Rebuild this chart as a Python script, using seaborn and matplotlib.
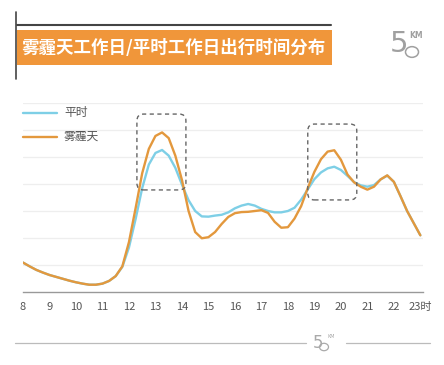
import matplotlib
matplotlib.use("Agg")
import matplotlib.pyplot as plt
from matplotlib.patches import FancyBboxPatch, Rectangle, Circle
from matplotlib.lines import Line2D
import seaborn as sns
import pandas as pd

sns.set_theme(style="white")
plt.rcParams['font.family'] = ['Noto Sans CJK SC', 'DejaVu Sans']

# 数据 (从图中估读, 每15分钟一个点)
horas = [8.0, 8.25, 8.5, 8.75, 9.0, 9.25, 9.5, 9.75, 10.0, 10.25, 10.5, 10.75,
         11.0, 11.25, 11.5, 11.75, 12.0, 12.25, 12.5, 12.75, 13.0, 13.25, 13.5, 13.75,
         14.0, 14.25, 14.5, 14.75, 15.0, 15.25, 15.5, 15.75, 16.0, 16.25, 16.5, 16.75,
         17.0, 17.25, 17.5, 17.75, 18.0, 18.25, 18.5, 18.75, 19.0, 19.25, 19.5, 19.75,
         20.0, 20.25, 20.5, 20.75, 21.0, 21.25, 21.5, 21.75, 22.0, 22.25, 22.5, 22.75, 23.0]

pingshi = [1.09, 0.95, 0.82, 0.72, 0.63, 0.56, 0.49, 0.42, 0.36, 0.31, 0.27, 0.27,
           0.31, 0.41, 0.59, 0.93, 1.65, 2.7, 3.85, 4.72, 5.15, 5.26, 5.05, 4.6,
           3.98, 3.4, 3.0, 2.8, 2.79, 2.83, 2.86, 2.95, 3.1, 3.2, 3.26, 3.2,
           3.08, 3.0, 2.95, 2.95, 3.0, 3.12, 3.42, 3.8, 4.18, 4.43, 4.58, 4.64,
           4.52, 4.3, 4.07, 3.95, 3.9, 3.96, 4.17, 4.31, 4.08, 3.55, 3.0, 2.55, 2.1]

wumai = [1.09, 0.95, 0.82, 0.72, 0.63, 0.56, 0.49, 0.42, 0.36, 0.31, 0.27, 0.27,
         0.31, 0.41, 0.59, 0.95, 1.85, 3.1, 4.4, 5.3, 5.78, 5.91, 5.7, 5.05,
         4.15, 3.0, 2.22, 1.99, 2.03, 2.22, 2.52, 2.78, 2.92, 2.96, 2.97, 3.0,
         3.03, 2.93, 2.6, 2.38, 2.4, 2.72, 3.18, 3.85, 4.45, 4.92, 5.2, 5.25,
         4.9, 4.35, 4.06, 3.9, 3.79, 3.9, 4.17, 4.32, 4.08, 3.55, 3.0, 2.55, 2.1]

ticks = list(range(8, 24))
tick_labels = [str(h) for h in range(8, 23)] + ['23时']

azul = '#7ECFE6'
naranja = '#E3983D'

df = pd.DataFrame({'hora': horas * 2,
                   'valor': pingshi + wumai,
                   'serie': ['平时'] * len(horas) + ['雾霾天'] * len(horas)})

W, H = 444, 365
fig = plt.figure(figsize=(W / 100, H / 100), dpi=100)

def fx(px):
    return px / W

def fy(py):
    return 1 - py / H

ax = fig.add_axes([fx(23), fy(292), fx(423) - fx(23), fy(103) - fy(292)])
sns.lineplot(data=df, x='hora', y='valor', hue='serie',
             palette={'平时': azul, '雾霾天': naranja}, linewidth=1.7,
             legend=False, ax=ax)
for ln in ax.lines:
    ln.set_solid_joinstyle('round')
    ln.set_solid_capstyle('round')
ax.set_xlim(8.0, 23.1)
ax.set_ylim(0, 7)
ax.set_yticks(range(1, 8))
ax.set_yticklabels([])
ax.yaxis.grid(True, color='#EEEEEE', linewidth=0.9)
ax.tick_params(axis='y', length=0)
ax.set_xticks(ticks)
ax.set_xticklabels(tick_labels, fontsize=8, color='#555555')
ax.tick_params(axis='x', length=0, pad=7)
ax.set_xlabel('')
ax.set_ylabel('')
for s in ['top', 'right', 'left']:
    ax.spines[s].set_visible(False)
ax.spines['bottom'].set_color('#999999')
ax.spines['bottom'].set_linewidth(1.0)

# 虚线框
for x0, x1, y0, y1 in [(12.3, 14.15, 3.78, 6.59), (18.75, 20.6, 3.41, 6.22)]:
    box = FancyBboxPatch((x0, y0), x1 - x0, y1 - y0,
                         boxstyle='round,pad=0,rounding_size=0.25',
                         fill=False, edgecolor='#666666', linestyle=(0, (3, 2.5)),
                         linewidth=1.0, zorder=5)
    ax.add_patch(box)

# 图例
fig.add_artist(Line2D([fx(23), fx(57)], [fy(113), fy(113)], color=azul, linewidth=1.7))
fig.add_artist(Line2D([fx(23), fx(57)], [fy(137), fy(137)], color=naranja, linewidth=1.7))
fig.text(fx(64), fy(112), '平时', fontsize=8.5, color='#555555', va='center')
fig.text(fx(64), fy(136), '雾霾天', fontsize=8.5, color='#555555', va='center')

# 标题
fig.add_artist(Rectangle((fx(17), fy(65)), fx(332) - fx(17), fy(30) - fy(65),
                         transform=fig.transFigure, facecolor='#F0963A', edgecolor='none'))
fig.add_artist(Line2D([fx(17), fx(331)], [fy(25), fy(25)], color='#444444', linewidth=1.5))
fig.add_artist(Line2D([fx(16), fx(16)], [fy(12), fy(79)], color='#444444', linewidth=1.2))
fig.text(fx(21), fy(48), '雾霾天工作日/平时工作日出行时间分布', fontsize=12.6,
         fontweight='heavy', color='white', va='center', ha='left')

# 50KM 标志 (右上)
fig.text(fx(390), fy(44), '5', fontsize=21, color='#A0A0A0', va='center', ha='left',
         family=['DejaVu Sans'])
fig.add_artist(Circle((fx(412), fy(52)), 6.5 / W, transform=fig.transFigure,
                      fill=False, edgecolor='#A0A0A0', linewidth=1.1))
fig.text(fx(409), fy(36), 'KM', fontsize=5.5, color='#A0A0A0', va='center', ha='left',
         family=['DejaVu Sans'], fontweight='bold')

# 底部线条与标志
fig.add_artist(Line2D([fx(15), fx(306)], [fy(343), fy(343)], color='#BBBBBB', linewidth=0.9))
fig.add_artist(Line2D([fx(346), fx(430)], [fy(343), fy(343)], color='#BBBBBB', linewidth=0.9))
fig.text(fx(313), fy(343), '5', fontsize=12, color='#AAAAAA', va='center', ha='left',
         family=['DejaVu Sans'])
fig.add_artist(Circle((fx(324), fy(347)), 4.5 / W, transform=fig.transFigure,
                      fill=False, edgecolor='#AAAAAA', linewidth=0.9))
fig.text(fx(327), fy(337), 'KM', fontsize=3.5, color='#AAAAAA', va='center', ha='left',
         family=['DejaVu Sans'])

fig.savefig('out.png', dpi=100, facecolor='white')
